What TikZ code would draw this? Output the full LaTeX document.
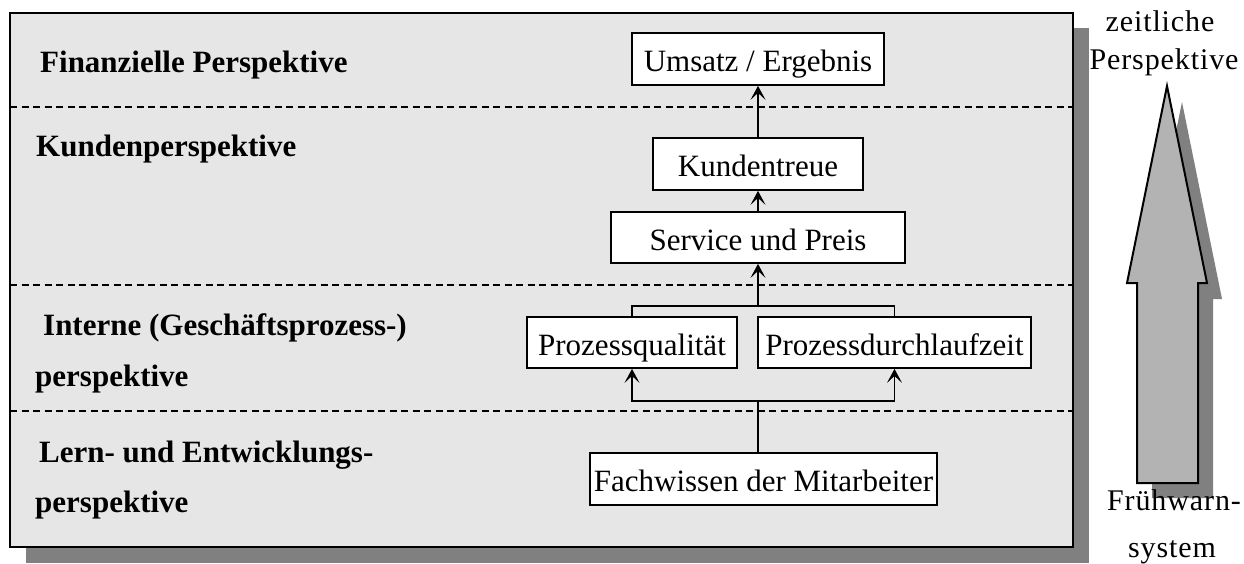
\documentclass[tikz,border=0pt]{standalone}
\usepackage{fontspec}
\setmainfont{Liberation Serif}
\usetikzlibrary{arrows.meta}
\definecolor{panelgray}{RGB}{230,230,230}
\definecolor{shadowgray}{RGB}{128,128,128}
\definecolor{arrowgray}{RGB}{179,179,179}
\tikzset{
  box/.style={draw=black, fill=white, line width=1.8pt, inner sep=0pt, text height=25pt, text depth=0pt, font=\fontsize{31}{36}\selectfont},
  lbl/.style={anchor=base west, inner sep=0pt, font=\fontsize{31}{36}\selectfont\bfseries},
  side/.style={anchor=base, inner sep=0pt, font=\fontsize{30}{34}\selectfont\addfontfeature{LetterSpace=3}},
  sep/.style={line width=1.5pt, dash pattern=on 7pt off 4.5pt},
  conn/.style={line width=1.8pt, -{Stealth[length=14pt,width=15pt,inset=7pt,line width=0.8pt]}},
  link/.style={line width=1.8pt}
}
\begin{document}
\begin{tikzpicture}[x=1pt,y=-1pt]
\useasboundingbox (0,0) rectangle (1244,564);
% main panel with shadow
\fill[shadowgray] (26,28) rectangle (1089,563);
\draw[fill=panelgray, line width=2pt] (10,13) rectangle (1073,547);
% separators
\draw[sep] (10,107) -- (1073,107);
\draw[sep] (10,285) -- (1073,285);
\draw[sep] (10,411) -- (1073,411);
% left labels
\node[lbl] (l1) at (40,73) {Finanzielle Perspektive};
\node[lbl] (l2) at (36,157) {Kundenperspektive};
\node[lbl] (l3) at (43,335) {Interne (Geschäftsprozess-)};
\node[lbl] (l4) at (35,386) {perspektive};
\node[lbl] (l5) at (39,462) {Lern- und Entwicklungs-};
\node[lbl] (l6) at (35,512) {perspektive};
% boxes
\node[box, minimum width=252pt, minimum height=52pt] (ums) at (758,59) {Umsatz / Ergebnis};
\node[box, minimum width=210pt, minimum height=52pt] (kt) at (758,164) {Kundentreue};
\node[box, minimum width=294pt, minimum height=51pt] (svc) at (758,237.5) {Service und Preis};
\node[box, minimum width=210pt, minimum height=51pt] (pq) at (632,342.5) {Prozessqualität};
\node[box, minimum width=273pt, minimum height=51pt] (pd) at (894.5,342.5) {Prozessdurchlaufzeit};
\node[box, minimum width=347pt, minimum height=52pt] (fw) at (763.5,479) {Fachwissen der Mitarbeiter};
% connectors
\coordinate (top) at (758,306);
\coordinate (bot) at (758,401);
\draw[conn] (kt.north) -- (ums.south);
\draw[conn] (svc.north) -- (kt.south);
\draw[link] (pq.north) |- (top) -| (pd.north);
\draw[conn] (top) -- (svc.south);
\draw[link] (fw.north -| bot) -- (bot);
\draw[conn] (bot) -| (pq.south);
\draw[conn] (bot) -| (pd.south);
% time arrow
\fill[shadowgray] (1182,102) -- (1222,299) -- (1213,299) -- (1213,498) -- (1152,498) -- (1152,299) -- (1142,299) -- cycle;
\draw[fill=arrowgray, line width=2pt, line join=miter] (1167,86) -- (1207,283) -- (1198,283) -- (1198,483) -- (1137,483) -- (1137,283) -- (1127,283) -- cycle;
\node[side] (t1) at (1160,32) {zeitliche};
\node[side] (t2) at (1164,70) {Perspektive};
\node[side] (t3) at (1174,510) {Frühwarn-};
\node[side] (t4) at (1172,557) {system};
\end{tikzpicture}
\end{document}
